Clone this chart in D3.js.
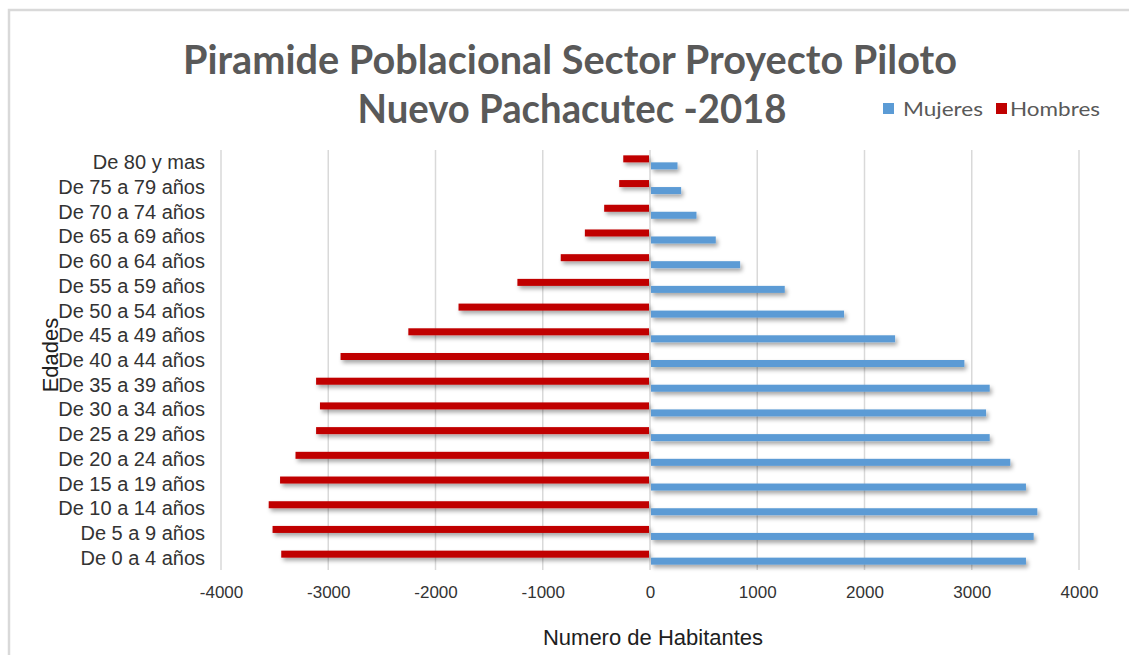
<!DOCTYPE html>
<html><head><meta charset="utf-8">
<script src="https://cdn.jsdelivr.net/npm/d3@7"></script>
<style>html,body{margin:0;padding:0;background:#fff;}svg{display:block;}</style>
</head><body>
<svg id="chart" width="1129" height="655"></svg>
<script>
const categories = ["De 0 a 4 años","De 5 a 9 años","De 10 a 14 años","De 15 a 19 años","De 20 a 24 años","De 25 a 29 años","De 30 a 34 años","De 35 a 39 años","De 40 a 44 años","De 45 a 49 años","De 50 a 54 años","De 55 a 59 años","De 60 a 64 años","De 65 a 69 años","De 70 a 74 años","De 75 a 79 años","De 80 y mas"];
const mujeres = [3496,3568,3602,3496,3350,3158,3124,3158,2922,2276,1800,1247,831,604,424,281,247];
const hombres = [-3429,-3510,-3546,-3440,-3296,-3104,-3068,-3104,-2876,-2244,-1776,-1227,-823,-598,-418,-278,-240];
const xTicks = [-4000,-3000,-2000,-1000,0,1000,2000,3000,4000];
const seriesNames = ["Hombres","Mujeres"];
const seriesColors = {Mujeres:"#5b9bd5", Hombres:"#c00000"};
const titleLines = ["Piramide Poblacional Sector Proyecto Piloto","Nuevo Pachacutec -2018"];

(function(){
const svg = d3.select("#chart");
const defs = svg.append("defs");
const f = defs.append("filter").attr("id","shadow").attr("x","-10%").attr("y","-50%").attr("width","130%").attr("height","250%");
f.append("feDropShadow").attr("dx",2).attr("dy",3).attr("stdDeviation",2).attr("flood-color","#000").attr("flood-opacity",0.35);

// chart border (top & left)
svg.append("path").attr("d","M9,655 V10 H1129").attr("fill","none").attr("stroke","#d9d9d9").attr("stroke-width",2.5);

const pLeft = 221, pRight = 1079, pTop = 150, pBottom = 570;
const x = d3.scaleLinear().domain([-4000,4000]).range([pLeft,pRight]);
const y = d3.scaleBand().domain(categories.slice().reverse()).range([pTop,pBottom]).paddingInner(0.433).paddingOuter(0.2165);
const ySub = d3.scaleBand().domain(seriesNames).range([0,y.bandwidth()]);

// gridlines
svg.append("g").selectAll("line").data(xTicks).join("line")
  .attr("x1",d=>x(d)).attr("x2",d=>x(d)).attr("y1",pTop).attr("y2",pBottom)
  .attr("stroke","#d9d9d9").attr("stroke-width",1.5);

// bars
const data = [];
categories.forEach((c,i)=>{
  data.push({cat:c, s:"Hombres", v:hombres[i]});
  data.push({cat:c, s:"Mujeres", v:mujeres[i]});
});
svg.append("g").attr("filter","url(#shadow)").selectAll("rect").data(data).join("rect")
  .attr("x",d=>Math.min(x(0),x(d.v)) + (d.v<0?-1:1))
  .attr("width",d=>Math.abs(x(d.v)-x(0)))
  .attr("y",d=>y(d.cat)+ySub(d.s))
  .attr("height",ySub.bandwidth())
  .attr("fill",d=>seriesColors[d.s]);

// y labels
svg.append("g").selectAll("text").data(categories).join("text")
  .attr("x",205).attr("y",d=>y(d)+y.bandwidth()/2).attr("dy","0.35em")
  .attr("text-anchor","end").attr("font-family","Liberation Sans, Arial, sans-serif")
  .attr("font-size",20).attr("fill","#333333").text(d=>d);

// x tick labels
const xAxis = d3.axisBottom(x).tickValues(xTicks).tickSize(0).tickPadding(0).tickFormat(d=>String(d));
const gx = svg.append("g").attr("transform",`translate(0,${pBottom+16})`).call(xAxis);
gx.select(".domain").remove();
gx.selectAll("text").attr("font-family","Liberation Sans, Arial, sans-serif").attr("font-size",17).attr("fill","#333333").attr("dy","0.71em");

// axis titles
svg.append("text").attr("x",653).attr("y",645).attr("text-anchor","middle")
  .attr("font-family","Liberation Sans, Arial, sans-serif").attr("font-size",22).attr("fill","#202020")
  .text("Numero de Habitantes");
svg.append("text").attr("transform","translate(58,355) rotate(-90)").attr("text-anchor","middle")
  .attr("font-family","Liberation Sans, Arial, sans-serif").attr("font-size",22).attr("fill","#202020")
  .text("Edades");

// title
svg.append("text").attr("x",570).attr("y",74).attr("text-anchor","middle")
  .attr("font-family","Lato, sans-serif").attr("font-weight","bold").attr("font-size",40).attr("fill","#595959")
  .attr("textLength",774).attr("lengthAdjust","spacingAndGlyphs").text(titleLines[0]);
svg.append("text").attr("x",572).attr("y",123).attr("text-anchor","middle")
  .attr("font-family","Lato, sans-serif").attr("font-weight","bold").attr("font-size",40).attr("fill","#595959")
  .attr("textLength",429).attr("lengthAdjust","spacingAndGlyphs").text(titleLines[1]);

// legend
const legendItems = [{n:"Mujeres", sx:883, tx:903, w:80},{n:"Hombres", sx:996, tx:1010, w:90}];
const lg = svg.append("g");
lg.selectAll("rect").data(legendItems).join("rect")
  .attr("x",d=>d.sx).attr("y",103).attr("width",11).attr("height",11).attr("fill",d=>seriesColors[d.n]);
lg.selectAll("text").data(legendItems).join("text")
  .attr("x",d=>d.tx).attr("y",116).attr("font-family","Lato, sans-serif").attr("font-size",20).attr("fill","#595959")
  .attr("textLength",d=>d.w).attr("lengthAdjust","spacingAndGlyphs").text(d=>d.n);
})();
</script>
</body></html>
